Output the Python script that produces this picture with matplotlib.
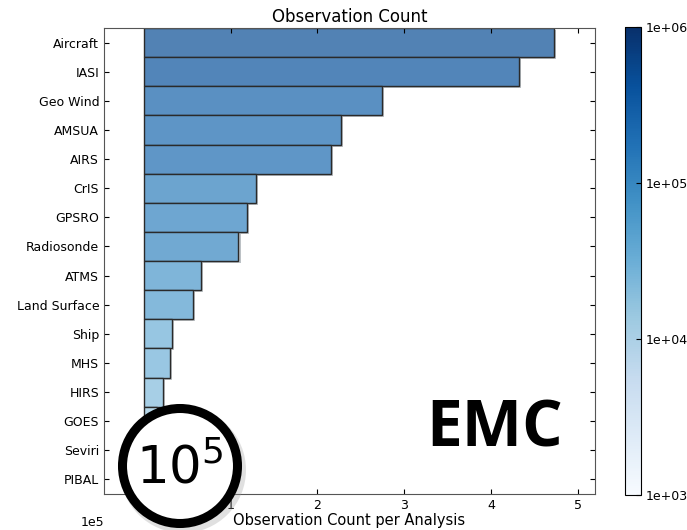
import matplotlib
matplotlib.use('Agg')
import matplotlib.pyplot as plt
import matplotlib.patheffects as pe
from matplotlib.colors import LogNorm
from matplotlib.patches import Circle
import numpy as np

# observation counts per analysis
obs_types = ['Aircraft', 'IASI', 'Geo Wind', 'AMSUA', 'AIRS', 'CrIS', 'GPSRO',
             'Radiosonde', 'ATMS', 'Land Surface', 'Ship', 'MHS', 'HIRS',
             'GOES', 'Seviri', 'PIBAL']
counts = [473000, 432000, 274000, 227000, 216000, 129000, 119000,
          109000, 66000, 57000, 32000, 30000, 22000,
          15000, 10000, 5000]

cmap = plt.get_cmap('Blues')
norm = LogNorm(vmin=1e3, vmax=1e6)

fig = plt.figure(figsize=(6.87, 5.30), dpi=100)
ax = fig.add_axes([0.1514, 0.0679, 0.7147, 0.8792])

# blend the colormap colour with white (alpha 0.7 look) so the shadow stays behind
alpha = 0.7
cols = cmap(norm(counts))
cols[:, :3] = cols[:, :3] * alpha + (1 - alpha)

ypos = np.arange(len(obs_types))
bars = ax.barh(ypos, counts, height=1.0, left=0, color=cols,
               edgecolor='#2a2a2a', linewidth=1.0)
for b in bars:
    b.set_path_effects([pe.SimplePatchShadow(offset=(1.5, -1.5), alpha=0.3),
                        pe.Normal()])

ax.set_yticks(ypos)
ax.set_yticklabels(obs_types, fontsize=9)
ax.set_ylim(len(obs_types) - 0.5, -0.5)
ax.set_xlim(-0.46e5, 5.2e5)
ax.set_xticks([1e5, 2e5, 3e5, 4e5, 5e5])
ax.ticklabel_format(axis='x', style='sci', scilimits=(0, 0))
ax.tick_params(direction='in', top=True, right=True, labelsize=9, length=3.5,
               width=0.8)
ax.xaxis.get_offset_text().set_fontsize(9)
ax.xaxis.get_offset_text().set_x(0.0)
ax.set_title('Observation Count', fontsize=12, pad=4)
ax.set_xlabel('Observation Count per Analysis', fontsize=10.5, labelpad=1)
for s in ax.spines.values():
    s.set_color('#555555')

# colorbar
cax = fig.add_axes([0.9098, 0.066, 0.0233, 0.883])
sm = plt.cm.ScalarMappable(norm=norm, cmap=cmap)
cb = fig.colorbar(sm, cax=cax, ticks=[1e3, 1e4, 1e5, 1e6])
cb.ax.set_yticklabels(['1e+03', '1e+04', '1e+05', '1e+06'])
cb.ax.tick_params(direction='in', labelsize=9, length=3.5, width=0.8,
                  which='major')
cb.ax.minorticks_off()

# logo (inches, so the circle stays round)
cx, cy = 1.80, 0.64
shadow = Circle((cx + 0.03, cy - 0.04), 0.63, transform=fig.dpi_scale_trans,
                facecolor='#999999', edgecolor='none', alpha=0.3, zorder=9)
fig.patches.append(shadow)
ring = Circle((cx, cy), 0.575, transform=fig.dpi_scale_trans,
              facecolor='white', edgecolor='black', linewidth=6.5, zorder=10)
fig.patches.append(ring)
fig.text(cx / 6.87, cy / 5.30 - 0.007, r'$\mathregular{10^5}$', fontsize=37,
         ha='center', va='center', zorder=11)

fig.text(495 / 687, 1 - 430 / 530, 'EMC', fontsize=46, fontweight='bold',
         family='Open Sans', ha='center', va='center')

fig.savefig('out.png', dpi=100)
